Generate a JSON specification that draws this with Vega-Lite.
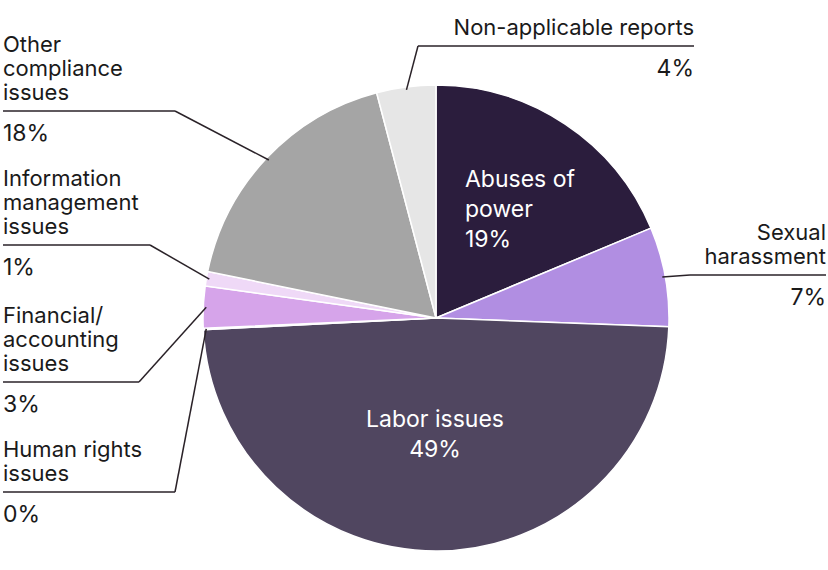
{
  "$schema": "https://vega.github.io/schema/vega-lite/v6.json",
  "width": 828,
  "height": 570,
  "autosize": {"type": "none"},
  "padding": 0,
  "background": "#ffffff",
  "config": {"view": {"stroke": null}, "text": {"font": "Inter", "fontSize": 23, "lineBreak": "\n"}},
  "data": {"values": [
    {"category": "Abuses of power", "label": "Abuses of\npower", "share": 0.187},
    {"category": "Sexual harassment", "label": "Sexual\nharassment", "share": 0.069},
    {"category": "Labor issues", "label": "Labor issues", "share": 0.486},
    {"category": "Human rights issues", "label": "Human rights\nissues", "share": 0.001},
    {"category": "Financial/accounting issues", "label": "Financial/\naccounting\nissues", "share": 0.029},
    {"category": "Information management issues", "label": "Information\nmanagement\nissues", "share": 0.010},
    {"category": "Other compliance issues", "label": "Other\ncompliance\nissues", "share": 0.177},
    {"category": "Non-applicable reports", "label": "Non-applicable reports", "share": 0.041}
  ]},
  "transform": [
    {"window": [{"op": "row_number", "as": "idx"}]},
    {"window": [{"op": "sum", "field": "share", "as": "cum"}], "sort": [{"field": "idx"}], "frame": [null, 0]},
    {"calculate": "2*PI*(datum.cum - datum.share/2)", "as": "mid"},
    {"calculate": "230*sin(datum.mid)", "as": "sx"},
    {"calculate": "230*cos(datum.mid)", "as": "sy"},
    {"calculate": "({'Abuses of power': {k: 'inl', tx: 29, ty: 131}, 'Labor issues': {k: 'inc', tx: -1, ty: -109}, 'Sexual harassment': {k: 'right', ex: 254, ly: 43, tx: 390}, 'Non-applicable reports': {k: 'right', ex: -18, ly: 272, tx: 258}, 'Human rights issues': {k: 'left', ex: -261, ly: -174, tx: -433}, 'Financial/accounting issues': {k: 'left', ex: -297, ly: -64, tx: -433}, 'Information management issues': {k: 'left', ex: -286, ly: 73, tx: -433}, 'Other compliance issues': {k: 'left', ex: -261, ly: 207, tx: -433}})[datum.category]", "as": "lay"},
    {"calculate": "datum.lay.k", "as": "kind"},
    {"calculate": "datum.lay.ex", "as": "ex"},
    {"calculate": "datum.lay.ly", "as": "ly"},
    {"calculate": "datum.lay.tx", "as": "tx"},
    {"calculate": "datum.lay.ty", "as": "ty"},
    {"calculate": "format(datum.share, '.0%')", "as": "pct"},
    {"calculate": "length(split(datum.label, '\\n'))", "as": "nlines"},
    {"calculate": "datum.ly + 11 + (datum.nlines - 1) * 24", "as": "nameY"},
    {"calculate": "datum.ly - 30", "as": "pctY"},
    {"calculate": "datum.label + '\\n' + datum.pct", "as": "full"}
  ],
  "layer": [
    {
      "mark": {"type": "arc", "outerRadius": 233, "stroke": "#ffffff", "strokeWidth": 1.5},
      "encoding": {
        "x": {"datum": 0, "type": "quantitative", "scale": {"domain": [-436, 392], "nice": false, "zero": false}, "axis": null},
        "y": {"datum": 0, "type": "quantitative", "scale": {"domain": [-252, 318], "nice": false, "zero": false}, "axis": null},
        "theta": {"field": "share", "type": "quantitative", "stack": true},
        "order": {"field": "idx", "type": "quantitative"},
        "color": {
          "field": "category", "type": "nominal", "legend": null,
          "scale": {
            "domain": ["Abuses of power", "Sexual harassment", "Labor issues", "Human rights issues", "Financial/accounting issues", "Information management issues", "Other compliance issues", "Non-applicable reports"],
            "range": ["#2b1d3d", "#b18ee2", "#504660", "#8a6fa8", "#d6a4ea", "#efd9f7", "#a5a5a5", "#e6e6e6"]
          }
        }
      }
    },
    {
      "transform": [{"filter": "datum.kind == 'left' || datum.kind == 'right'"}],
      "mark": {"type": "rule", "color": "#2a2228", "strokeWidth": 1.5},
      "encoding": {
        "x": {"field": "sx", "type": "quantitative", "scale": {"domain": [-436, 392], "nice": false, "zero": false}, "axis": null},
        "y": {"field": "sy", "type": "quantitative", "scale": {"domain": [-252, 318], "nice": false, "zero": false}, "axis": null},
        "x2": {"field": "ex"},
        "y2": {"field": "ly"}
      }
    },
    {
      "transform": [{"filter": "datum.kind == 'left' || datum.kind == 'right'"}],
      "mark": {"type": "rule", "color": "#2a2228", "strokeWidth": 1.5},
      "encoding": {
        "x": {"field": "ex", "type": "quantitative", "scale": {"domain": [-436, 392], "nice": false, "zero": false}, "axis": null},
        "x2": {"field": "tx"},
        "y": {"field": "ly", "type": "quantitative", "scale": {"domain": [-252, 318], "nice": false, "zero": false}, "axis": null}
      }
    },
    {
      "transform": [{"filter": "datum.kind == 'left'"}],
      "mark": {"type": "text", "align": "left", "baseline": "alphabetic", "fontSize": 22, "lineHeight": 24, "color": "#1a1a1a"},
      "encoding": {
        "x": {"field": "tx", "type": "quantitative", "scale": {"domain": [-436, 392], "nice": false, "zero": false}, "axis": null},
        "y": {"field": "nameY", "type": "quantitative", "scale": {"domain": [-252, 318], "nice": false, "zero": false}, "axis": null},
        "text": {"field": "label"}
      }
    },
    {
      "transform": [{"filter": "datum.kind == 'left'"}],
      "mark": {"type": "text", "align": "left", "baseline": "alphabetic", "color": "#1a1a1a"},
      "encoding": {
        "x": {"field": "tx", "type": "quantitative", "scale": {"domain": [-436, 392], "nice": false, "zero": false}, "axis": null},
        "y": {"field": "pctY", "type": "quantitative", "scale": {"domain": [-252, 318], "nice": false, "zero": false}, "axis": null},
        "text": {"field": "pct"}
      }
    },
    {
      "transform": [{"filter": "datum.kind == 'right'"}],
      "mark": {"type": "text", "align": "right", "baseline": "alphabetic", "fontSize": 22, "lineHeight": 24, "color": "#1a1a1a"},
      "encoding": {
        "x": {"field": "tx", "type": "quantitative", "scale": {"domain": [-436, 392], "nice": false, "zero": false}, "axis": null},
        "y": {"field": "nameY", "type": "quantitative", "scale": {"domain": [-252, 318], "nice": false, "zero": false}, "axis": null},
        "text": {"field": "label"}
      }
    },
    {
      "transform": [{"filter": "datum.kind == 'right'"}],
      "mark": {"type": "text", "align": "right", "baseline": "alphabetic", "color": "#1a1a1a"},
      "encoding": {
        "x": {"field": "tx", "type": "quantitative", "scale": {"domain": [-436, 392], "nice": false, "zero": false}, "axis": null},
        "y": {"field": "pctY", "type": "quantitative", "scale": {"domain": [-252, 318], "nice": false, "zero": false}, "axis": null},
        "text": {"field": "pct"}
      }
    },
    {
      "transform": [{"filter": "datum.kind == 'inl'"}],
      "mark": {"type": "text", "align": "left", "baseline": "alphabetic", "lineHeight": 30, "color": "#ffffff"},
      "encoding": {
        "x": {"field": "tx", "type": "quantitative", "scale": {"domain": [-436, 392], "nice": false, "zero": false}, "axis": null},
        "y": {"field": "ty", "type": "quantitative", "scale": {"domain": [-252, 318], "nice": false, "zero": false}, "axis": null},
        "text": {"field": "full"}
      }
    },
    {
      "transform": [{"filter": "datum.kind == 'inc'"}],
      "mark": {"type": "text", "align": "center", "baseline": "alphabetic", "lineHeight": 30, "color": "#ffffff"},
      "encoding": {
        "x": {"field": "tx", "type": "quantitative", "scale": {"domain": [-436, 392], "nice": false, "zero": false}, "axis": null},
        "y": {"field": "ty", "type": "quantitative", "scale": {"domain": [-252, 318], "nice": false, "zero": false}, "axis": null},
        "text": {"field": "full"}
      }
    }
  ]
}
